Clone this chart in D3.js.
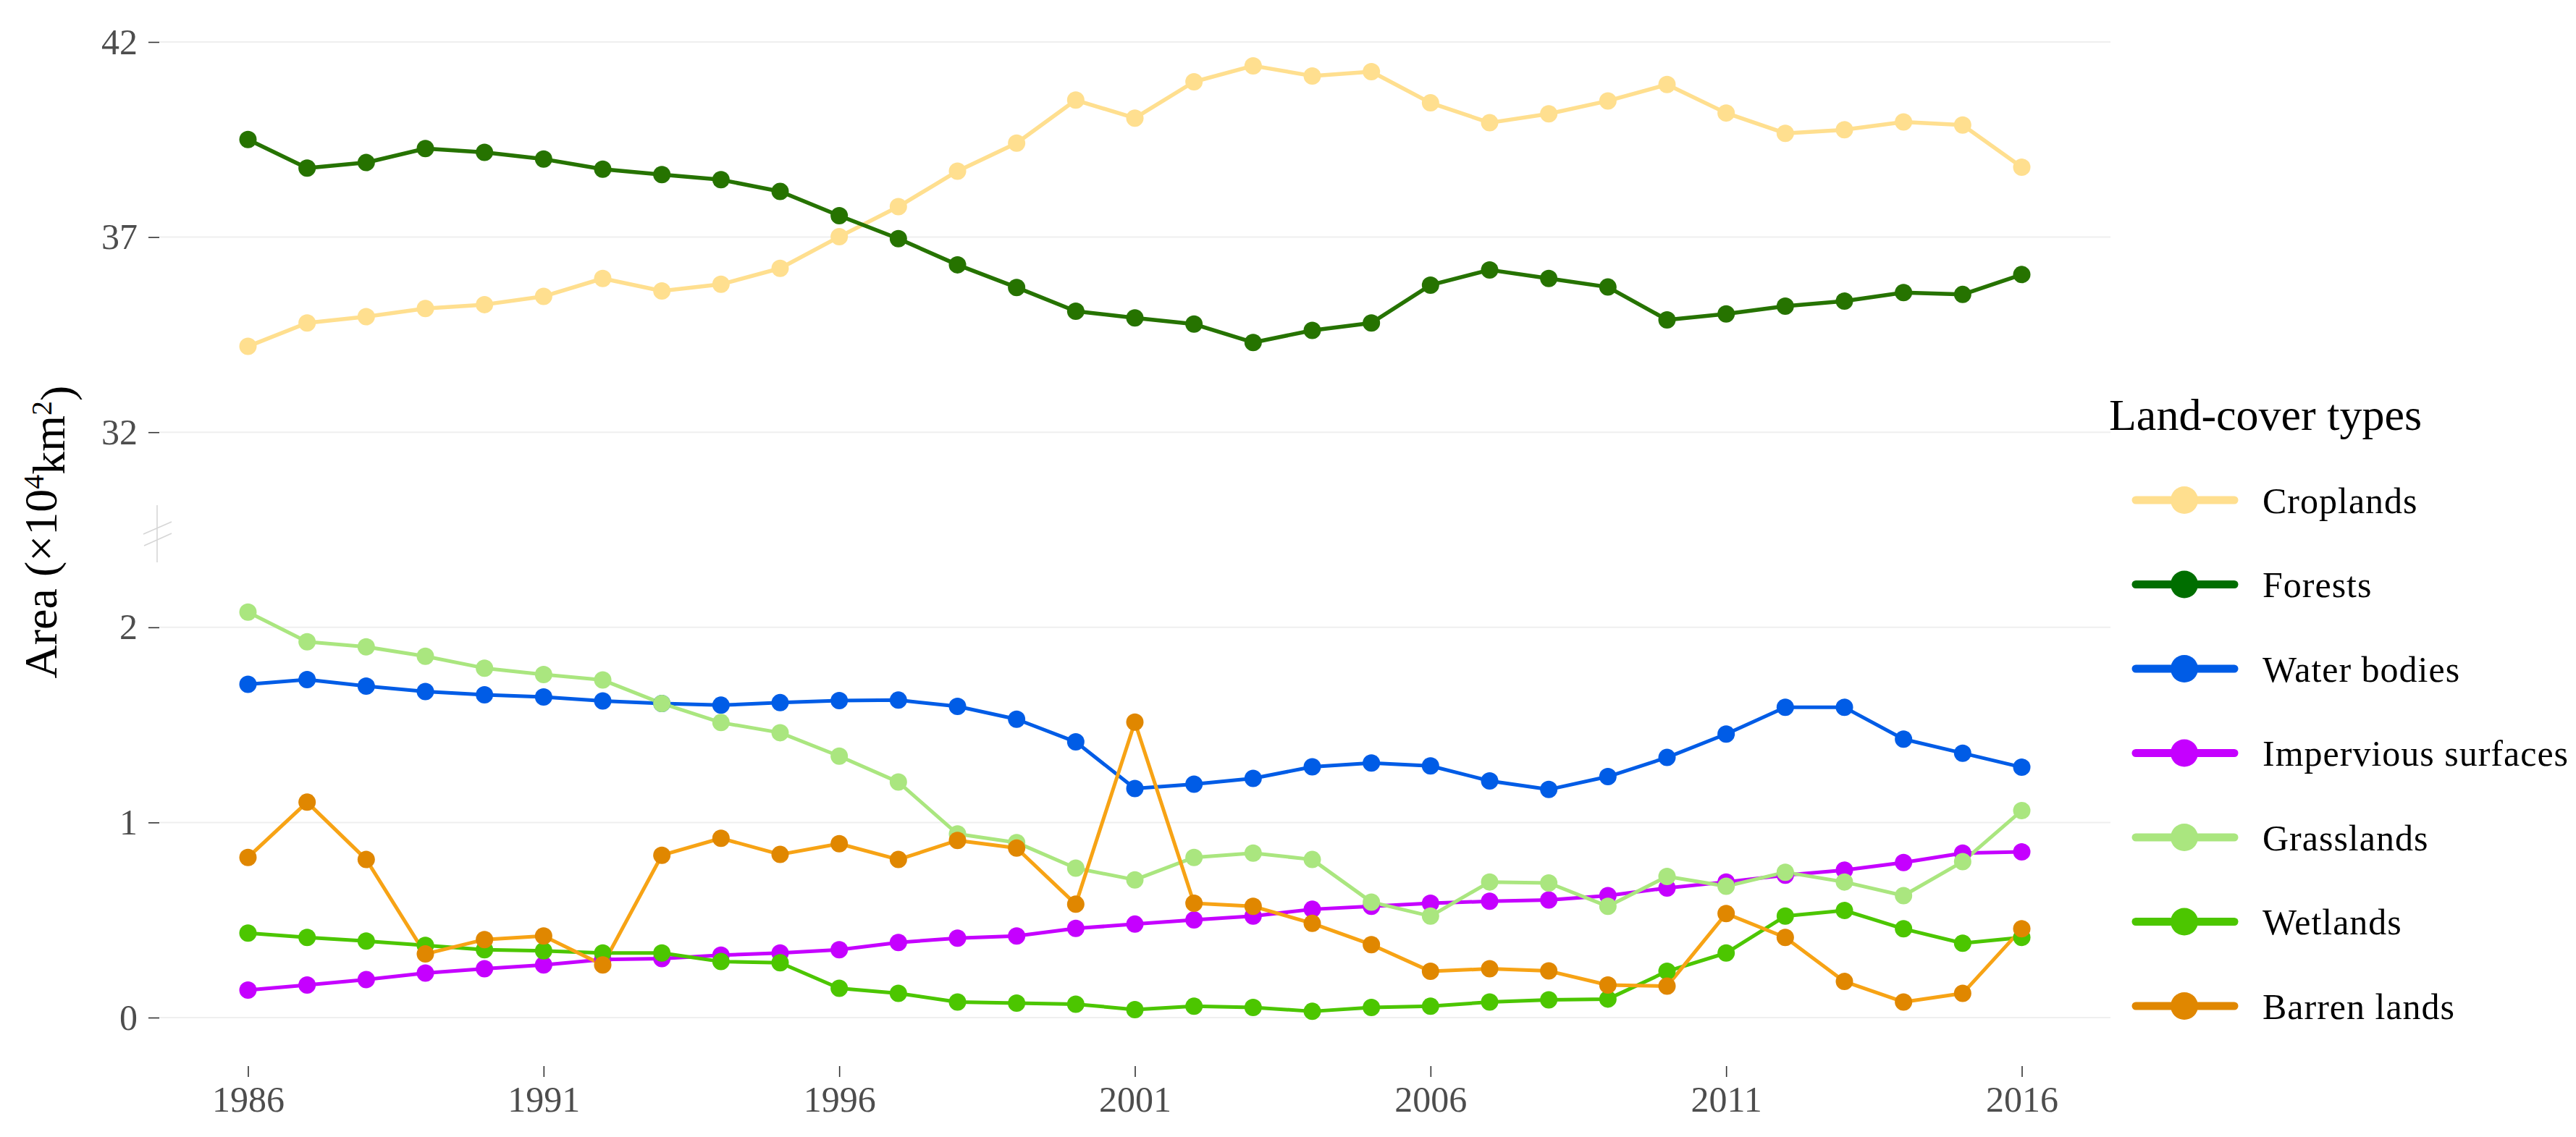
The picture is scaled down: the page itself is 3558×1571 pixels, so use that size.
<!DOCTYPE html>
<html>
<head>
<meta charset="utf-8">
<script src="https://cdn.jsdelivr.net/npm/d3@7"></script>
<style>
  html, body { margin: 0; padding: 0; background: #ffffff; }
  svg { display: block; }
</style>
</head>
<body>
<svg id="chart" width="3558" height="1571"></svg>
<script>
// ---------- DATA ----------
const years = d3.range(1986, 2017);
const seriesNames = ["Croplands", "Forests", "Water bodies", "Impervious surfaces", "Grasslands", "Wetlands", "Barren lands"];

const croplands = [34.20,34.80,34.96,35.17,35.27,35.48,35.94,35.62,35.79,36.20,37.01,37.78,38.69,39.41,40.51,40.05,40.98,41.39,41.13,41.24,40.44,39.93,40.16,40.49,40.91,40.18,39.66,39.75,39.95,39.87,38.79];
const forests = [39.50,38.77,38.91,39.27,39.17,39.00,38.74,38.60,38.47,38.17,37.55,36.96,36.29,35.71,35.10,34.93,34.77,34.30,34.61,34.80,35.77,36.16,35.94,35.72,34.88,35.03,35.23,35.36,35.58,35.53,36.04];
const waterBodies = [1.708,1.732,1.699,1.671,1.654,1.643,1.623,1.610,1.601,1.614,1.625,1.627,1.595,1.529,1.413,1.174,1.196,1.226,1.285,1.305,1.290,1.213,1.169,1.235,1.333,1.453,1.590,1.590,1.427,1.355,1.283];
const impervious = [0.141,0.167,0.195,0.228,0.250,0.270,0.298,0.302,0.320,0.331,0.348,0.385,0.407,0.418,0.457,0.479,0.501,0.520,0.555,0.570,0.586,0.596,0.603,0.625,0.664,0.695,0.730,0.756,0.795,0.843,0.849];
const grasslands = [2.078,1.926,1.900,1.852,1.791,1.758,1.730,1.610,1.512,1.460,1.340,1.207,0.941,0.897,0.766,0.706,0.821,0.843,0.810,0.592,0.520,0.695,0.690,0.570,0.723,0.673,0.745,0.695,0.625,0.799,1.061];
const wetlands = [0.433,0.411,0.392,0.370,0.348,0.342,0.331,0.331,0.287,0.281,0.150,0.124,0.080,0.074,0.069,0.041,0.058,0.052,0.032,0.052,0.058,0.080,0.091,0.095,0.237,0.331,0.520,0.549,0.455,0.381,0.411];
const barrenLands = [0.821,1.104,0.810,0.326,0.400,0.418,0.270,0.832,0.919,0.836,0.891,0.810,0.908,0.869,0.581,1.514,0.586,0.570,0.483,0.374,0.237,0.250,0.239,0.167,0.161,0.533,0.411,0.185,0.080,0.124,0.455];

const xTickValues = [1986, 1991, 1996, 2001, 2006, 2011, 2016];
const yTicksUpper = [32, 37, 42];
const yTicksLower = [0, 1, 2];

// ---------- STYLE ----------
const lineColors  = ["#FFDF8F", "#267300", "#005CE6", "#C500FF", "#AAE67F", "#4CC600", "#F7A315"];
const pointColors = ["#FFDF8F", "#267300", "#005CE6", "#C500FF", "#AAE67F", "#4CC600", "#E08700"];
const legendColors = ["#FFDF8F", "#006E00", "#005CE6", "#C500FF", "#AAE67F", "#4CC600", "#E08700"];
const upperSegment = [true, true, false, false, false, false, false];

const values = [croplands, forests, waterBodies, impervious, grasslands, wetlands, barrenLands];
const series = seriesNames.map((name, i) => ({
  name, i, upper: upperSegment[i],
  data: years.map((y, j) => ({ year: y, value: values[i][j] }))
}));

const svg = d3.select("#chart");
const serif = "'Liberation Serif', 'Times New Roman', 'DejaVu Serif', serif";

const left = 220, right = 2915;
const x = d3.scaleLinear().domain([1984.5, 2017.5]).range([left, right]);
const yLow = d3.scaleLinear().domain([0, 2]).range([1406, 866.8]);
const yHigh = d3.scaleLinear().domain([32, 42]).range([597.2, 58]);
const yOf = (s, v) => s.upper ? yHigh(v) : yLow(v);

// gridlines
const gridG = svg.append("g");
yTicksUpper.forEach(v => gridG.append("line")
  .attr("x1", left).attr("x2", right).attr("y1", yHigh(v)).attr("y2", yHigh(v))
  .attr("stroke", "#EFEFEF").attr("stroke-width", 2));
yTicksLower.forEach(v => gridG.append("line")
  .attr("x1", left).attr("x2", right).attr("y1", yLow(v)).attr("y2", yLow(v))
  .attr("stroke", "#EFEFEF").attr("stroke-width", 2));

// y axes
function styleAxis(g) {
  g.select(".domain").remove();
  g.selectAll(".tick line").attr("stroke", "#333333").attr("stroke-width", 1.6);
  g.selectAll(".tick text").attr("fill", "#4D4D4D").style("font-family", serif).style("font-size", "50px");
}
svg.append("g").attr("transform", `translate(${left},0)`)
  .call(d3.axisLeft(yHigh).tickValues(yTicksUpper).tickSize(15).tickPadding(15).tickFormat(d3.format("d")))
  .call(styleAxis);
svg.append("g").attr("transform", `translate(${left},0)`)
  .call(d3.axisLeft(yLow).tickValues(yTicksLower).tickSize(15).tickPadding(15).tickFormat(d3.format("d")))
  .call(styleAxis);

// x axis
const xAxisG = svg.append("g").attr("transform", "translate(0,1473)")
  .call(d3.axisBottom(x).tickValues(xTickValues).tickSize(15).tickPadding(12).tickFormat(d3.format("d")))
  .call(styleAxis);

// axis break mark
const brk = svg.append("g").attr("stroke", "#D6D6D6").attr("stroke-width", 1.6).attr("fill", "none");
brk.append("line").attr("x1", 217).attr("x2", 217).attr("y1", 698).attr("y2", 777);
brk.append("line").attr("x1", 198).attr("x2", 237).attr("y1", 738).attr("y2", 721);
brk.append("line").attr("x1", 199).attr("x2", 237).attr("y1", 754).attr("y2", 737);

// y title
const yt = svg.append("text")
  .attr("transform", "translate(78,735) rotate(-90)")
  .attr("text-anchor", "middle")
  .style("font-family", serif).style("font-size", "64px").attr("fill", "#000");
yt.append("tspan").text("Area (×10");
yt.append("tspan").text("4").attr("dy", "-0.45em").style("font-size", "40px");
yt.append("tspan").text("km").attr("dy", "0.45em");
yt.append("tspan").text("2").attr("dy", "-0.45em").style("font-size", "40px");
yt.append("tspan").text(")").attr("dy", "0.45em");

// lines
const lineGen = s => d3.line().x(d => x(d.year)).y(d => yOf(s, d.value));
const linesG = svg.append("g");
series.forEach(s => {
  linesG.append("path").datum(s.data)
    .attr("d", lineGen(s))
    .attr("fill", "none")
    .attr("stroke", lineColors[s.i])
    .attr("stroke-width", s.upper ? 5.5 : 5)
    .attr("stroke-linejoin", "round");
});
// points
const ptsG = svg.append("g");
series.forEach(s => {
  ptsG.selectAll(null).data(s.data).enter().append("circle")
    .attr("cx", d => x(d.year)).attr("cy", d => yOf(s, d.value))
    .attr("r", 12).attr("fill", pointColors[s.i]);
});

// legend
const lg = svg.append("g");
lg.append("text").attr("x", 2913).attr("y", 594).text("Land-cover types")
  .style("font-family", serif).style("font-size", "62px").attr("fill", "#000");
const legendY = d3.scaleLinear().domain([0, 6]).range([691, 1390]);
seriesNames.forEach((name, i) => {
  const yy = legendY(i);
  lg.append("line").attr("x1", 2950).attr("x2", 3086).attr("y1", yy).attr("y2", yy)
    .attr("stroke", legendColors[i]).attr("stroke-width", 11).attr("stroke-linecap", "round");
  lg.append("circle").attr("cx", 3017).attr("cy", yy).attr("r", 19).attr("fill", legendColors[i]);
  lg.append("text").attr("x", 3125).attr("y", yy).attr("dy", "0.35em").text(name)
    .style("font-family", serif).style("font-size", "50px").style("letter-spacing", "1px").attr("fill", "#000");
});
</script>
</body>
</html>
